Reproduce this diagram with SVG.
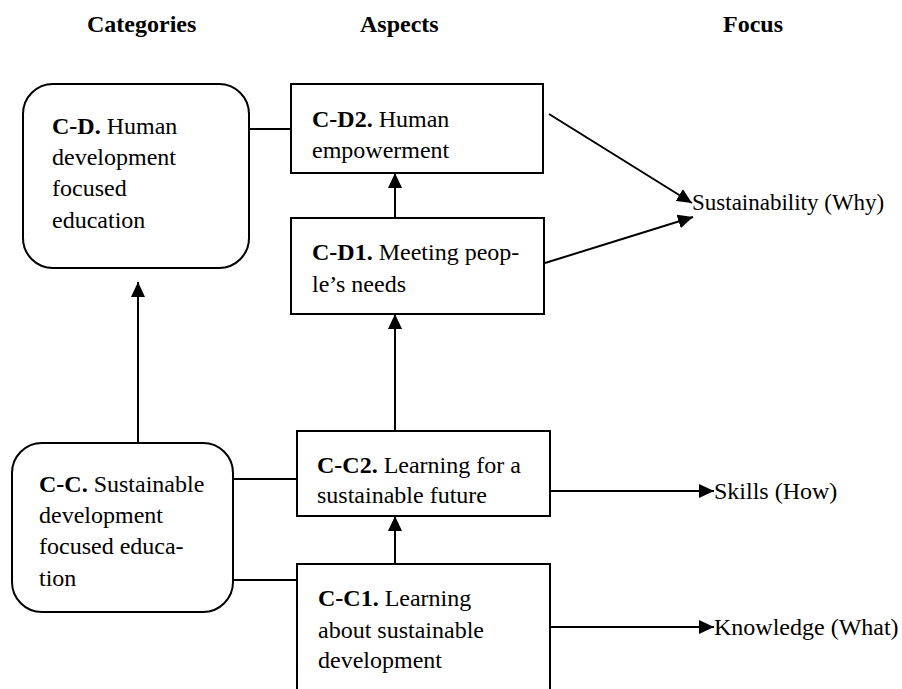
<svg xmlns="http://www.w3.org/2000/svg" width="902" height="689" viewBox="0 0 902 689">
  <style>
    .t { font-family: 'Liberation Serif'; font-size: 24px; font-weight: 400; font-style: normal; fill: #000; }
    .hdr { font-weight: 700; }
    .b { font-weight: 700; }
    .box { fill: #fff; stroke: #000; stroke-width: 2; }
    .link { fill: none; stroke: #000; stroke-width: 2; }
  </style>
  <defs>
    <marker id="arrow" markerUnits="userSpaceOnUse" markerWidth="15" markerHeight="14" refX="15" refY="7" orient="auto">
      <path d="M0,0 L15,7 L0,14 z" fill="#000"/>
    </marker>
  </defs>
  <rect width="902" height="689" fill="#fff"/>

  <!-- column headings -->
  <g id="headings">
    <text class="t hdr" font-family="Liberation Serif" x="87" y="32">Categories</text>
    <text class="t hdr" font-family="Liberation Serif" x="360" y="32">Aspects</text>
    <text class="t hdr" font-family="Liberation Serif" x="723" y="32">Focus</text>
  </g>

  <!-- connectors -->
  <g id="connectors">
    <line class="link" x1="249" y1="129" x2="291" y2="129"/>
    <line class="link" x1="395" y1="218" x2="395" y2="173" marker-end="url(#arrow)"/>
    <line class="link" x1="138" y1="443" x2="138" y2="282" marker-end="url(#arrow)"/>
    <line class="link" x1="395" y1="431" x2="395" y2="314" marker-end="url(#arrow)"/>
    <line class="link" x1="395" y1="564" x2="395" y2="516" marker-end="url(#arrow)"/>
    <line class="link" x1="233" y1="479" x2="297" y2="479"/>
    <line class="link" x1="233" y1="580" x2="297" y2="580"/>
    <line class="link" x1="550" y1="491" x2="714" y2="491" marker-end="url(#arrow)"/>
    <line class="link" x1="550" y1="627" x2="714" y2="627" marker-end="url(#arrow)"/>
    <line class="link" x1="549" y1="114" x2="692" y2="203" marker-end="url(#arrow)"/>
    <line class="link" x1="545" y1="263" x2="693" y2="217" marker-end="url(#arrow)"/>
  </g>

  <!-- categories -->
  <g id="cat-cd">
    <rect class="box" x="23" y="84" width="226" height="184" rx="30" ry="30"/>
    <text class="t" font-family="Liberation Serif" x="52" y="134"><tspan class="b">C-D.</tspan> Human</text>
    <text class="t" font-family="Liberation Serif" x="52" y="165">development</text>
    <text class="t" font-family="Liberation Serif" x="52" y="196">focused</text>
    <text class="t" font-family="Liberation Serif" x="52" y="228">education</text>
  </g>
  <g id="cat-cc">
    <rect class="box" x="12" y="443" width="221" height="169" rx="30" ry="30"/>
    <text class="t" font-family="Liberation Serif" x="39" y="492"><tspan class="b">C-C.</tspan> Sustainable</text>
    <text class="t" font-family="Liberation Serif" x="39" y="523">development</text>
    <text class="t" font-family="Liberation Serif" x="39" y="554">focused educa-</text>
    <text class="t" font-family="Liberation Serif" x="39" y="586">tion</text>
  </g>

  <!-- aspects -->
  <g id="asp-cd2">
    <rect class="box" x="291" y="84" width="252" height="89"/>
    <text class="t" font-family="Liberation Serif" x="312" y="127"><tspan class="b">C-D2.</tspan> Human</text>
    <text class="t" font-family="Liberation Serif" x="312" y="158">empowerment</text>
  </g>
  <g id="asp-cd1">
    <rect class="box" x="291" y="218" width="253" height="96"/>
    <text class="t" font-family="Liberation Serif" x="312" y="260"><tspan class="b">C-D1.</tspan> Meeting peop-</text>
    <text class="t" font-family="Liberation Serif" x="312" y="292">le’s needs</text>
  </g>
  <g id="asp-cc2">
    <rect class="box" x="297" y="431" width="253" height="85"/>
    <text class="t" font-family="Liberation Serif" x="317" y="473"><tspan class="b">C-C2.</tspan> Learning for a</text>
    <text class="t" font-family="Liberation Serif" x="317" y="503">sustainable future</text>
  </g>
  <g id="asp-cc1">
    <rect class="box" x="297" y="564" width="253" height="130"/>
    <text class="t" font-family="Liberation Serif" x="318" y="606"><tspan class="b">C-C1.</tspan> Learning</text>
    <text class="t" font-family="Liberation Serif" x="318" y="638">about sustainable</text>
    <text class="t" font-family="Liberation Serif" x="318" y="668">development</text>
  </g>

  <!-- focus labels -->
  <g id="focus-why">
    <text class="t" font-family="Liberation Serif" x="692" y="210" style="font-size:23px">Sustainability (Why)</text>
  </g>
  <g id="focus-how">
    <text class="t" font-family="Liberation Serif" x="714" y="499">Skills (How)</text>
  </g>
  <g id="focus-what">
    <text class="t" font-family="Liberation Serif" x="714" y="635">Knowledge (What)</text>
  </g>
</svg>
